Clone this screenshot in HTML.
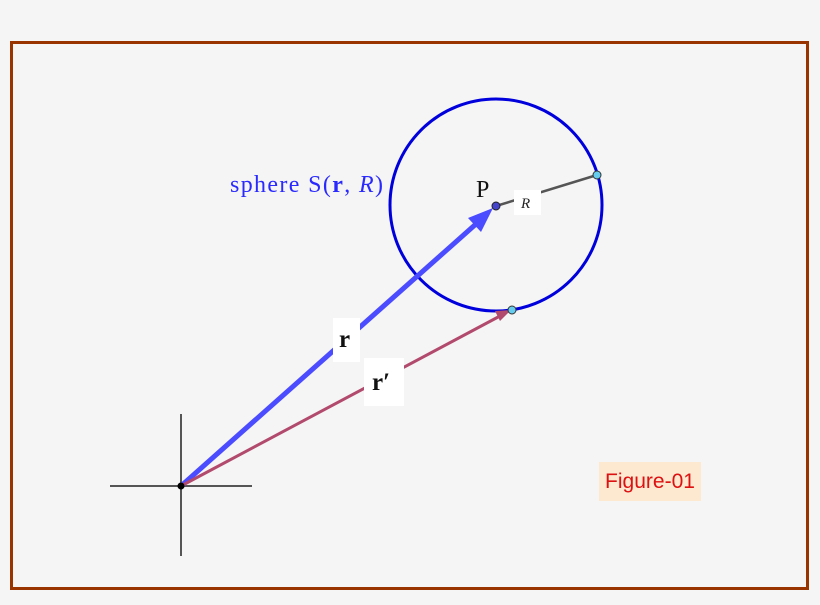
<!DOCTYPE html>
<html><head><style>
html,body{margin:0;padding:0;background:#f5f5f5;}
svg{display:block;}
</style></head><body>
<svg width="820" height="605" viewBox="0 0 820 605" xmlns="http://www.w3.org/2000/svg">
<rect x="0" y="0" width="820" height="605" fill="#f5f5f5"/>
<rect x="11.5" y="42.5" width="796" height="546" fill="#f5f5f5" stroke="#993300" stroke-width="3"/>
<line x1="110" y1="486" x2="252" y2="486" stroke="#555" stroke-width="2"/>
<line x1="181" y1="414" x2="181" y2="556" stroke="#555" stroke-width="2"/>
<circle cx="496" cy="205" r="106" fill="none" stroke="#0000dd" stroke-width="3"/>
<line x1="496" y1="206" x2="597" y2="175" stroke="#555" stroke-width="2.5"/>
<line x1="181" y1="486" x2="476" y2="224" stroke="#4b4bff" stroke-width="5"/>
<polygon points="493,208 468,218 481,232" fill="#4b4bff"/>
<line x1="181" y1="486" x2="500" y2="316" stroke="#b24a6e" stroke-width="3"/>
<polygon points="511,310 495,311 500,321" fill="#b24a6e"/>
<circle cx="496" cy="206" r="4" fill="#4444cc" stroke="#222" stroke-width="1"/>
<circle cx="597" cy="175" r="4" fill="#66ccee" stroke="#333" stroke-width="1"/>
<circle cx="512" cy="310" r="4" fill="#66ccee" stroke="#333" stroke-width="1"/>
<circle cx="181" cy="486" r="3.5" fill="#000"/>
<rect x="514" y="190" width="27" height="25" fill="#fff"/>
<text x="521" y="208" font-family="Liberation Serif,serif" font-style="italic" font-size="15" fill="#222">R</text>
<text x="476" y="197" font-family="Liberation Serif,serif" font-size="24" fill="#111">P</text>
<text x="230" y="192" font-family="Liberation Serif,serif" font-size="24" fill="#2a2aff" textLength="153" lengthAdjust="spacing">sphere S(<tspan font-weight="bold">r</tspan>, <tspan font-style="italic">R</tspan>)</text>
<rect x="333" y="318" width="27" height="44" fill="#fff"/>
<text x="339" y="347" font-family="Liberation Serif,serif" font-weight="bold" font-size="25" fill="#111">r</text>
<rect x="364" y="358" width="40" height="48" fill="#fff"/>
<text x="372" y="390" font-family="Liberation Serif,serif" font-weight="bold" font-size="25" fill="#111">r′</text>
<rect x="599" y="462" width="102" height="39" fill="#fde9d0"/>
<text x="650" y="488" text-anchor="middle" font-family="Liberation Sans,sans-serif" font-size="21" fill="#dd1111">Figure-01</text>
</svg>
</body></html>
